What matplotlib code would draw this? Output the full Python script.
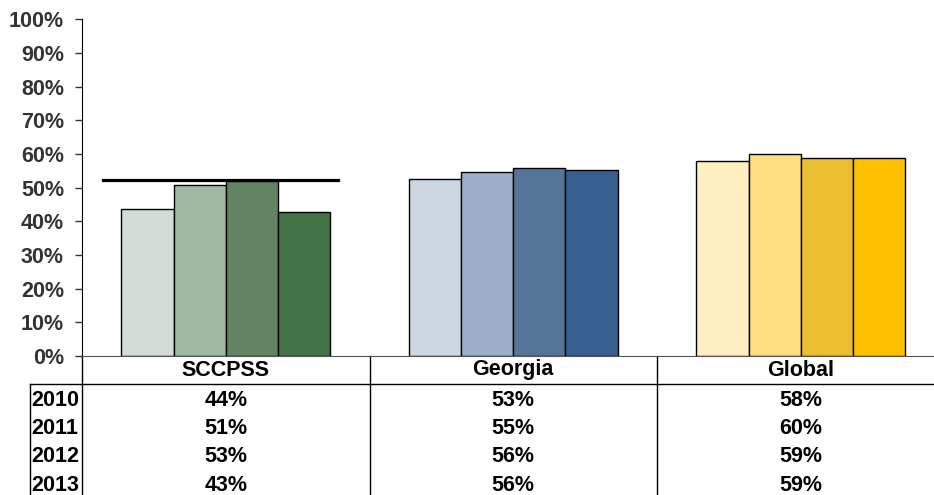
import numpy as np
import matplotlib
matplotlib.use("Agg")
import matplotlib.pyplot as plt
import matplotlib.transforms as mtransforms

plt.rcParams['font.family'] = ['Liberation Sans', 'DejaVu Sans']

groups = ["SCCPSS", "Georgia", "Global"]
years = ["2010", "2011", "2012", "2013"]

# bar heights (%)
sccpss = [43.7, 50.7, 52.0, 42.9]
georgia = [52.7, 54.5, 55.9, 55.3]
global_ = [57.9, 60.0, 58.8, 58.8]
benchmark = 52.2

# values printed in the table
table_labels = [
    ["44%", "53%", "58%"],
    ["51%", "55%", "60%"],
    ["53%", "56%", "59%"],
    ["43%", "56%", "59%"],
]

colors = [
    ["#D3DDD5", "#A0B9A2", "#628462", "#437347"],
    ["#CDD7E3", "#9BB0C8", "#577598", "#36608F"],
    ["#FFEEC0", "#FFDE80", "#EBBE30", "#FFC000"],
]

FS = 15.5
W, H = 934, 495
fig = plt.figure(figsize=(W / 100, H / 100), dpi=100)
ax_left, ax_bottom = 82 / W, 1 - 356 / H
ax_w = 862.5 / W
ax_h = (356 - 19.3) / H
ax = fig.add_axes([ax_left, ax_bottom, ax_w, ax_h])

data = [sccpss, georgia, global_]
bw = 0.1817
x = np.arange(len(groups))
for gi, vals in enumerate(data):
    for yi, v in enumerate(vals):
        ax.bar(x[gi] + (yi - 1.5) * bw, v, width=bw, color=colors[gi][yi],
               edgecolor="black", linewidth=1.0, zorder=2)

ax.plot([-0.426, 0.391], [benchmark, benchmark], color="black", lw=2.3, zorder=3)

ax.set_xlim(-0.5, 2.5)
ax.set_ylim(0, 100)
ax.set_yticks(np.arange(0, 101, 10))
ax.set_yticklabels(["%d%%" % t for t in range(0, 101, 10)])
ax.tick_params(axis="y", direction="out", length=5, width=1, pad=8,
               labelsize=FS, labelcolor="#333333", color="#333333")
for lab in ax.get_yticklabels():
    lab.set_fontweight("bold")
ax.set_xticks([])
ax.spines["top"].set_visible(False)
ax.spines["right"].set_visible(False)
ax.spines["left"].set_color("black")
ax.spines["bottom"].set_color("#555555")

# table under the chart
trans = mtransforms.blended_transform_factory(ax.transData, ax.transAxes)
px = 1 / 336.7  # axes fraction per pixel (vertical)
bottom = -(H - 356) * px
for xb in [-0.5, 0.5, 1.5]:
    ax.plot([xb, xb], [0, bottom], color="black", lw=1.0, transform=trans,
            clip_on=False)
hline_y = -(384 - 356) * px
ax.plot([(30 - 82) / 287.5 - 0.5, 2.6], [hline_y, hline_y], color="black",
        lw=1.0, transform=trans, clip_on=False)
ax.plot([(30 - 82) / 287.5 - 0.5] * 2, [hline_y, bottom], color="black",
        lw=1.0, transform=trans, clip_on=False)

for gi, g in enumerate(groups):
    ax.text(x[gi], -(370 - 356) * px, g, transform=trans, ha="center",
            va="center", fontsize=FS, fontweight="bold", color="black")

row_y = [400, 428.4, 456.8, 485.2]
for ri, yr in enumerate(years):
    fig.text(31 / W, 1 - row_y[ri] / H, yr, ha="left", va="center",
             fontsize=FS, fontweight="bold", color="black")
    for gi in range(len(groups)):
        ax.text(x[gi], -(row_y[ri] - 356) * px, table_labels[ri][gi],
                transform=trans, ha="center", va="center", fontsize=FS,
                fontweight="bold", color="black")

fig.savefig("out.png", dpi=100)
